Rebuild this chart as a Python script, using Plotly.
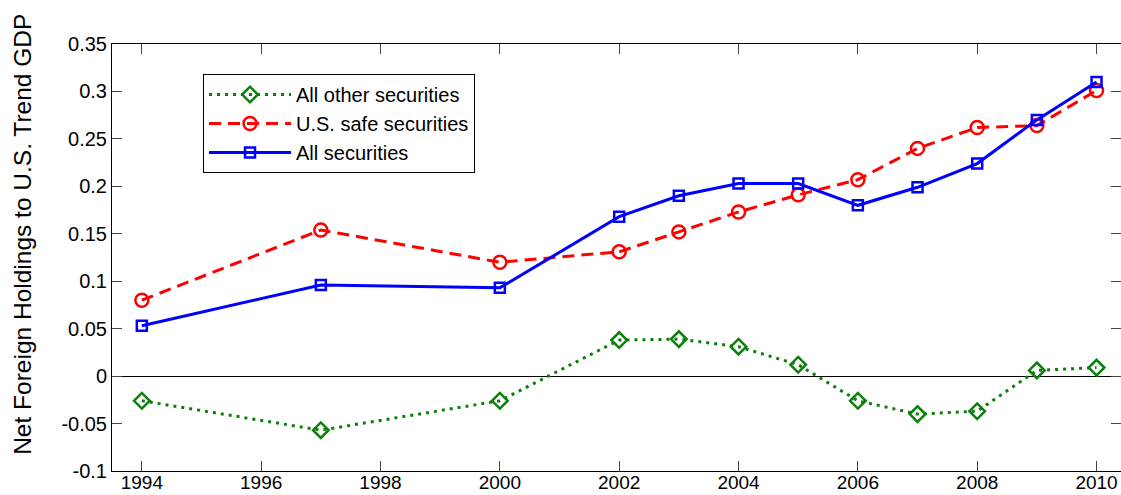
import plotly.graph_objects as go

years = [1994, 1997, 2000, 2002, 2003, 2004, 2005, 2006, 2007, 2008, 2009, 2010]
other_securities = [-0.026, -0.057, -0.026, 0.038, 0.039, 0.031, 0.012, -0.026, -0.040, -0.037, 0.006, 0.009]
safe_securities = [0.080, 0.154, 0.120, 0.131, 0.152, 0.173, 0.191, 0.207, 0.240, 0.262, 0.264, 0.301]
all_securities = [0.053, 0.096, 0.093, 0.168, 0.190, 0.203, 0.203, 0.180, 0.199, 0.224, 0.270, 0.310]

x_ticks = [1994, 1996, 1998, 2000, 2002, 2004, 2006, 2008, 2010]
y_ticks = [-0.1, -0.05, 0, 0.05, 0.1, 0.15, 0.2, 0.25, 0.3, 0.35]
y_tick_labels = ["-0.1", "-0.05", "0", "0.05", "0.1", "0.15", "0.2", "0.25", "0.3", "0.35"]

FONT = "Liberation Sans, Arial, sans-serif"

fig = go.Figure()
fig.add_trace(go.Scatter(
    x=years, y=other_securities, name="All other securities", mode="lines+markers",
    line=dict(color="#0a800a", width=3, dash="3px,5px"),
    marker=dict(symbol="diamond-open", size=12, color="#0a800a", line=dict(width=2.5, color="#0a800a")),
))
fig.add_trace(go.Scatter(
    x=years, y=safe_securities, name="U.S. safe securities", mode="lines+markers",
    line=dict(color="#ff0000", width=3, dash="12px,7px"),
    marker=dict(symbol="circle-open", size=13, color="#ff0000", line=dict(width=2.5, color="#ff0000")),
))
fig.add_trace(go.Scatter(
    x=years, y=all_securities, name="All securities", mode="lines+markers",
    line=dict(color="#0000ff", width=3),
    marker=dict(symbol="square-open", size=10, color="#0000ff", line=dict(width=2.5, color="#0000ff")),
))

fig.update_layout(
    width=1121, height=495,
    margin=dict(l=112, r=0, t=44, b=24),
    paper_bgcolor="white", plot_bgcolor="white",
    font=dict(family=FONT, size=20, color="black"),
    showlegend=True,
    legend=dict(
        x=0.0902, y=0.9297, xanchor="left", yanchor="top",
        bgcolor="white", bordercolor="black", borderwidth=1,
        font=dict(family=FONT, size=20, color="black"),
        traceorder="normal", itemwidth=82,
    ),
    xaxis=dict(
        range=[1993.5, 2010.41], tickmode="array", tickvals=x_ticks,
        ticktext=[str(t) for t in x_ticks], automargin=False,
        ticklabelstandoff=-6,
        showgrid=False, zeroline=False,
        showline=True, linecolor="black", linewidth=1, mirror="ticks",
        ticks="inside", ticklen=10, tickcolor="#444", tickwidth=1,
        tickfont=dict(family=FONT, size=19, color="black"),
    ),
    yaxis=dict(
        range=[-0.1, 0.35], tickmode="array", tickvals=y_ticks, ticktext=y_tick_labels,
        automargin=False,
        showgrid=False, zeroline=True, zerolinecolor="black", zerolinewidth=1,
        showline=True, linecolor="black", linewidth=1, mirror="ticks",
        ticks="inside", ticklen=10, tickcolor="#444", tickwidth=1,
        tickfont=dict(family=FONT, size=20, color="black"),
    ),
    annotations=[dict(
        text="Net Foreign Holdings to U.S. Trend GDP",
        xref="paper", yref="paper", x=-0.089, y=0.5535,
        xanchor="center", yanchor="middle", textangle=-90, showarrow=False,
        font=dict(family=FONT, size=24.5, color="black"),
    )],
)

fig.write_html("out.html", config={"displayModeBar": False},
               post_script="document.body.style.margin='0';")
